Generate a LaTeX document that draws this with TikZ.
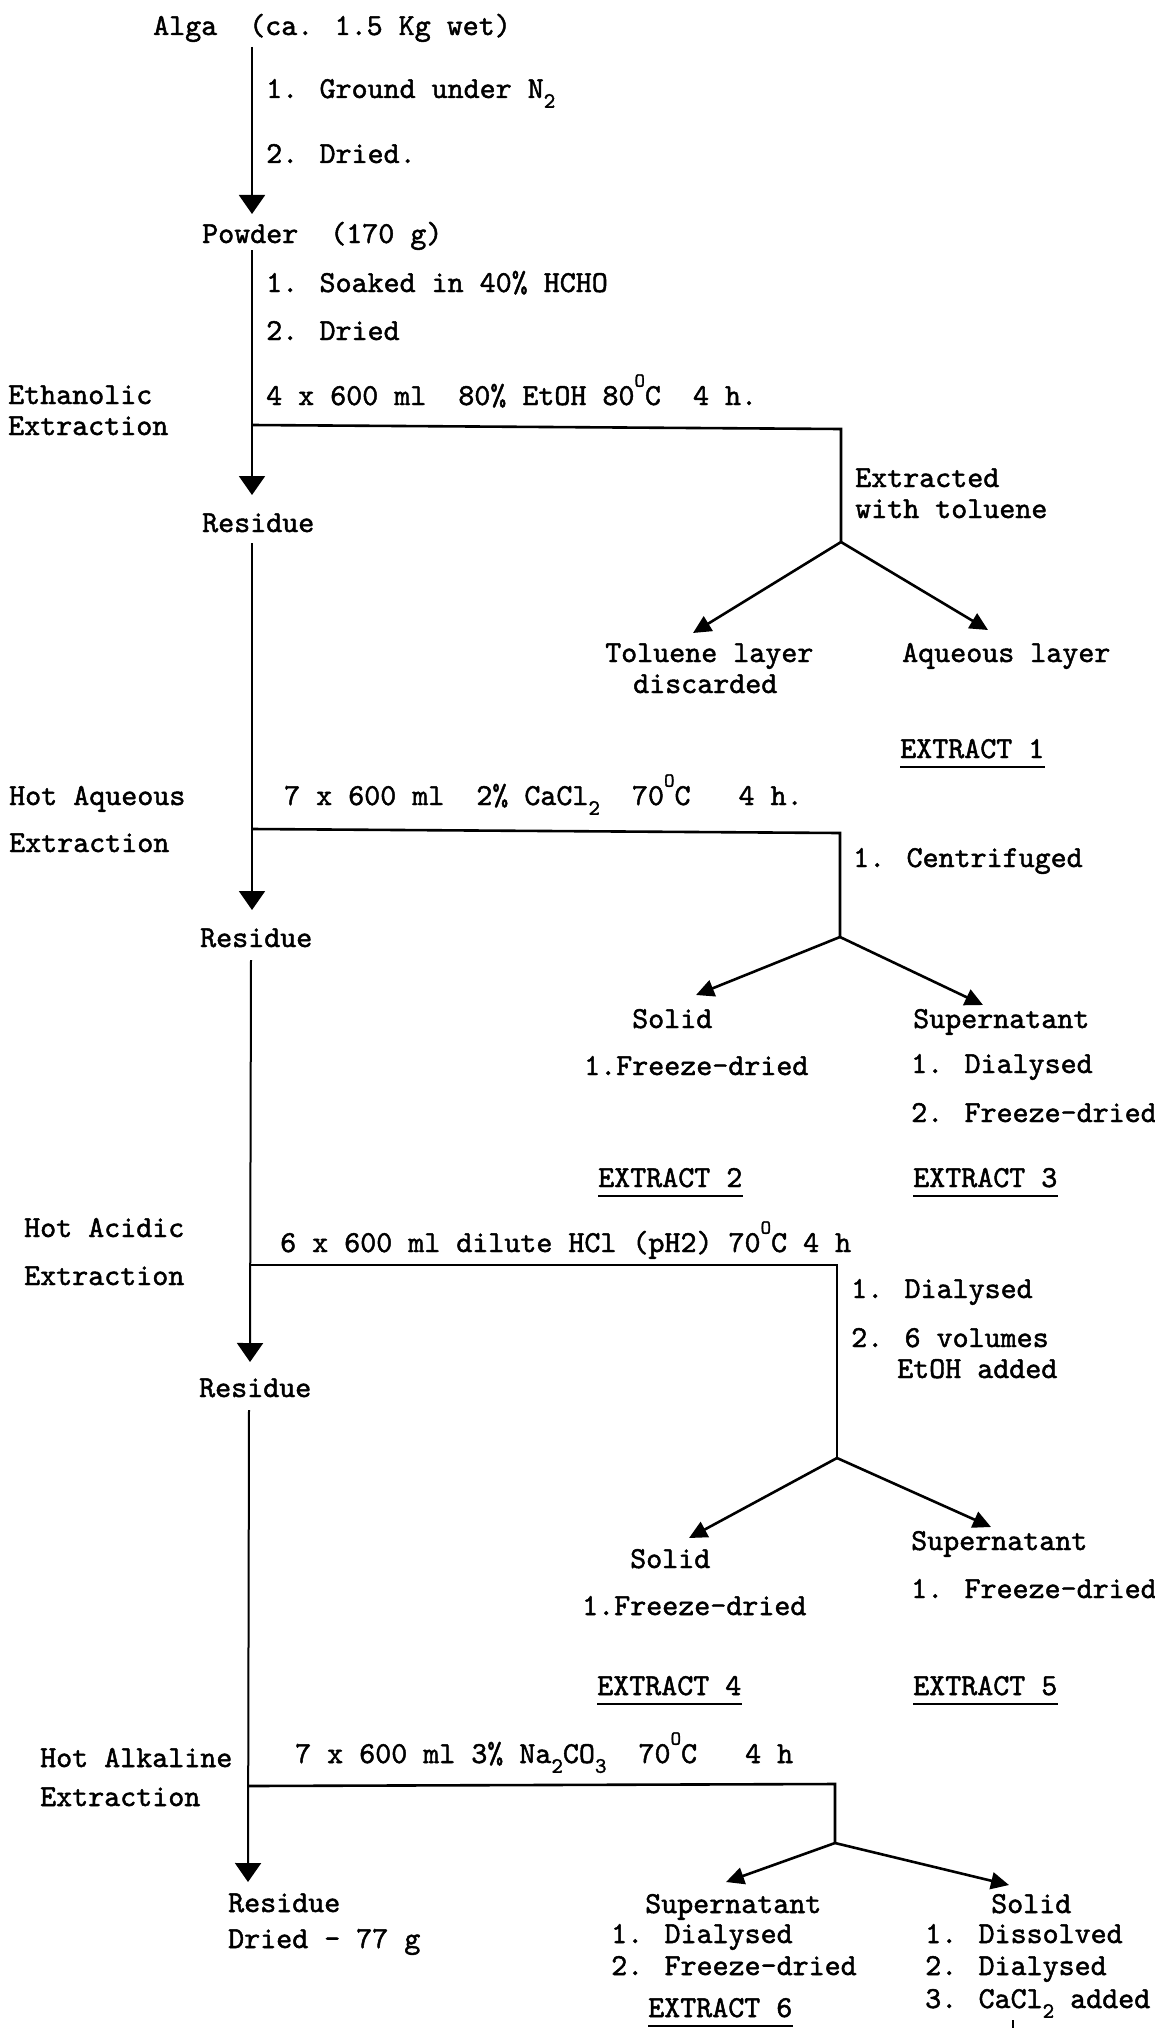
\documentclass[tikz,border=0pt]{standalone}
\usepackage{fontspec}
\newfontfamily\tw[Extension=.otf,FakeBold=1.5]{lmmono10-regular}
\usetikzlibrary{arrows.meta}
% raised "O" used as the degree sign, and lowered indices
\newcommand\degO{\raisebox{0.6em}{\fontsize{20}{20}\selectfont O}}
\newcommand\dnidx[1]{\raisebox{-0.32em}{\fontsize{22}{22}\selectfont #1}}
\begin{document}
\begin{tikzpicture}[x=1pt,y=-1pt,
  lbl/.style={anchor=base west,inner sep=0pt,font=\tw\fontsize{30.5}{34}\selectfont},
  flow/.style={line width=2pt},
  arr/.style={flow,-{Triangle[length=19pt,width=26pt]}},
  bar/.style={line width=2.6pt,line join=miter},
  fork/.style={line width=2.6pt,-{Triangle[length=18pt,width=17pt]}},
  ul/.style={line width=2.4pt}]
\useasboundingbox[fill=white] (0,0) rectangle (1155,2028);

% ---------- text ----------
\node[lbl] (alga)   at (153,35)  {Alga\ \ (ca. 1.5 Kg wet)};
\node[lbl] (s1a)    at (266,98)  {1. Ground under N\dnidx{2}};
\node[lbl] (s1b)    at (266,163) {2. Dried.};
\node[lbl] (powder) at (202,243) {Powder\ \ (170 g)};
\node[lbl] (s2a)    at (266,292) {1. Soaked in 40\% HCHO};
\node[lbl] (s2b)    at (266,340) {2. Dried};
\node[lbl] (ethA)   at (8,404)   {Ethanolic};
\node[lbl] (ethB)   at (8,435)   {Extraction};
\node[lbl] (proc1)  at (266,405) {4 x 600 ml\ \ 80\% EtOH 80\degO C\ \ 4 h.};
\node[lbl] (tolA)   at (855,487) {Extracted};
\node[lbl] (tolB)   at (855,518) {with toluene};
\node[lbl] (res1)   at (202,532) {Residue};
\node[lbl] (tol1)   at (605,662) {Toluene layer};
\node[lbl] (tol2)   at (633,693) {discarded};
\node[lbl] (aq)     at (902,662) {Aqueous layer};
\node[lbl] (ex1)    at (900,758) {EXTRACT 1};

\node[lbl] (aqA)    at (9,805)   {Hot Aqueous};
\node[lbl] (aqB)    at (9,852)   {Extraction};
\node[lbl] (proc2)  at (284,805) {7 x 600 ml\ \ 2\% CaCl\dnidx{2}\ \ 70\degO C\ \ \ 4 h.};
\node[lbl] (cent)   at (853,867) {1. Centrifuged};
\node[lbl] (res2)   at (200,947) {Residue};
\node[lbl] (sol2)   at (632,1028) {Solid};
\node[lbl] (sol2a)  at (584,1075) {1.Freeze-dried};
\node[lbl] (sup3)   at (913,1028) {Supernatant};
\node[lbl] (sup3a)  at (911,1073) {1. Dialysed};
\node[lbl] (sup3b)  at (911,1122) {2. Freeze-dried};
\node[lbl] (ex2)    at (598,1187) {EXTRACT 2};
\node[lbl] (ex3)    at (913,1187) {EXTRACT 3};

\node[lbl] (acA)    at (24,1237) {Hot Acidic};
\node[lbl] (acB)    at (24,1285) {Extraction};
\node[lbl] (proc3)  at (280,1252) {6 x 600 ml dilute HCl (pH2) 70\degO C 4 h};
\node[lbl] (dia1)   at (851,1298) {1. Dialysed};
\node[lbl] (dia2)   at (851,1347) {2. 6 volumes};
\node[lbl] (dia3)   at (897,1378) {EtOH added};
\node[lbl] (res3)   at (199,1397) {Residue};
\node[lbl] (sol4)   at (630,1568) {Solid};
\node[lbl] (sol4a)  at (582,1615) {1.Freeze-dried};
\node[lbl] (sup5)   at (911,1550) {Supernatant};
\node[lbl] (sup5a)  at (911,1598) {1. Freeze-dried};
\node[lbl] (ex4)    at (597,1695) {EXTRACT 4};
\node[lbl] (ex5)    at (913,1695) {EXTRACT 5};

\node[lbl] (alA)    at (40,1767) {Hot Alkaline};
\node[lbl] (alB)    at (40,1806) {Extraction};
\node[lbl] (proc4)  at (295,1763) {7 x 600 ml 3\% Na\dnidx{2}CO\dnidx{3}\ \ 70\degO C\ \ \ 4 h};
\node[lbl] (res4)   at (228,1912) {Residue};
\node[lbl] (res4a)  at (228,1948) {Dried - 77 g};
\node[lbl] (sup6)   at (645,1913) {Supernatant};
\node[lbl] (sup6a)  at (611,1943) {1. Dialysed};
\node[lbl] (sup6b)  at (611,1975) {2. Freeze-dried};
\node[lbl] (ex6)    at (648,2017) {EXTRACT 6};
\node[lbl] (sol6)   at (991,1913) {Solid};
\node[lbl] (sol6a)  at (925,1943) {1. Dissolved};
\node[lbl] (sol6b)  at (925,1975) {2. Dialysed};
\node[lbl] (sol6c)  at (925,2008) {3. CaCl\dnidx{2} added};

% underlines of the extract labels
\foreach \e in {ex1,ex2,ex3,ex4,ex5,ex6}
  \draw[ul] ([yshift=-9pt]\e.base west) -- ([yshift=-9pt]\e.base east);

% ---------- main line ----------
\coordinate (m0) at (252,47);
\coordinate (m1) at (252,214);
\coordinate (m2) at (252,250);
\coordinate (j1) at (252,425);
\coordinate (m3) at (252,495);
\coordinate (m4) at (252,543);
\coordinate (j2) at (252,829);
\coordinate (m5) at (252,910);
\coordinate (m6) at (251,960);
\coordinate (j3) at (250,1265);
\coordinate (m7) at (250,1362);
\coordinate (m8) at (249,1410);
\coordinate (j4) at (248,1786);
\coordinate (m9) at (248,1882);

\draw[arr] (m0) -- (m1);
\draw[arr] (m2) -- (m3);
\draw[arr] (m4) -- (m5);
\draw[arr] (m6) -- (m7);
\draw[arr] (m8) -- (m9);

% ---------- side branches ----------
\coordinate (c1) at (841,429);  \coordinate (f1) at (841,542);
\coordinate (t1a) at (693,633); \coordinate (t1b) at (988,630);
\coordinate (c2) at (840,833);  \coordinate (f2) at (840,937);
\coordinate (t2a) at (696,995); \coordinate (t2b) at (983,1005);
\coordinate (c3) at (837,1265); \coordinate (f3) at (837,1458);
\coordinate (t3a) at (689,1538); \coordinate (t3b) at (991,1527);
\coordinate (c4) at (835,1784); \coordinate (f4) at (835,1843);
\coordinate (t4a) at (726,1882); \coordinate (t4b) at (1009,1885);

\draw[bar] (j1) -- (c1) -- (f1);
\draw[bar] (j2) -- (c2) -- (f2);
\draw[bar] (j3) -- (c3) -- (f3);
\draw[bar] (j4) -- (c4) -- (f4);

\draw[fork] (f1) -- (t1a);  \draw[fork] (f1) -- (t1b);
\draw[fork] (f2) -- (t2a);  \draw[fork] (f2) -- (t2b);
\draw[fork] (f3) -- (t3a);  \draw[fork] (f3) -- (t3b);
\draw[fork] (f4) -- (t4a);  \draw[fork] (f4) -- (t4b);

% start of the line leaving the last solid
\coordinate (s6end) at (1013,2028);
\draw[flow] ([yshift=-12pt]sol6c.base -| s6end) -- (s6end);
\end{tikzpicture}
\end{document}
